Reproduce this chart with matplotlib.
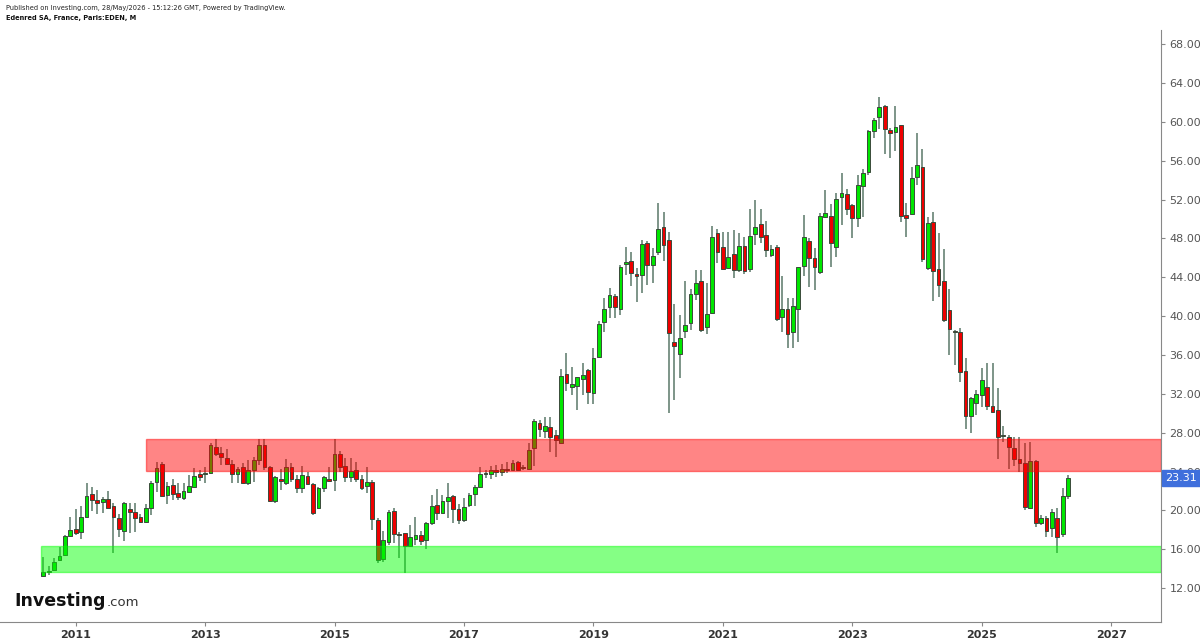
import matplotlib
matplotlib.use("Agg")
import matplotlib.pyplot as plt
import matplotlib.patches as patches
import pandas as pd

# --- monthly candles, Jul 2010 .. May 2026 ---
months = pd.date_range("2010-07-01", periods=191, freq="MS")

opens = [13.24, 13.7, 13.85, 14.9, 15.36, 17.35, 18.04, 17.73, 19.28, 21.65,
         21.06, 20.9, 21.2, 20.48, 19.24, 17.9, 20.13, 19.86, 19.35, 18.76,
         20.2, 22.95, 24.74, 21.58, 22.6, 21.8, 21.3, 21.9, 22.4, 23.7,
         23.7, 23.8, 26.5, 25.94, 25.42, 24.77, 23.7, 24.43, 22.85, 24.15,
         25.2, 26.73, 24.5, 21.0, 23.2, 22.85, 24.43, 23.2, 22.33, 23.53,
         22.7, 20.2, 22.33, 23.2, 23.12, 25.8, 24.56, 23.4, 24.15, 23.2,
         22.5, 22.95, 19.0, 14.95, 16.77, 19.96, 17.53, 17.63, 16.33, 17.1,
         17.46, 16.94, 18.73, 20.55, 19.76, 21.0, 21.5, 20.1, 19.0, 20.55,
         21.68, 22.37, 23.8, 23.7, 24.2, 23.9, 24.3, 24.15, 25.0, 24.4,
         24.3, 26.38, 28.96, 28.2, 28.55, 27.76, 26.9, 34.0, 32.74, 32.84,
         33.5, 34.45, 32.05, 35.75, 39.43, 40.97, 42.07, 40.73, 45.37, 45.68,
         44.34, 44.23, 47.56, 45.26, 46.64, 49.14, 47.84, 37.37, 36.1, 38.47,
         39.26, 42.24, 43.62, 38.84, 40.36, 48.6, 47.15, 44.99, 46.4, 44.75,
         47.26, 44.82, 48.5, 49.45, 48.39, 46.33, 47.08, 39.94, 40.73, 38.4,
         40.7, 45.16, 47.74, 46.02, 44.58, 50.17, 50.34, 47.15, 52.24, 52.54,
         51.41, 50.14, 53.43, 54.88, 59.03, 60.54, 61.67, 59.17, 59.0, 59.65,
         50.41, 50.48, 54.36, 55.39, 44.99, 49.66, 44.85, 43.62, 40.63, 38.45,
         38.4, 34.35, 29.71, 31.05, 31.88, 32.66, 30.78, 30.33, 27.8, 27.59,
         26.38, 25.25, 24.9, 20.27, 25.11, 18.66, 19.17, 18.15, 19.17, 17.53,
         21.51]
highs = [15.16, 14.27, 15.05, 16.26, 17.46, 19.28, 20.1, 20.4, 22.85, 22.37,
         22.1, 21.4, 22.0, 20.8, 19.62, 20.9, 20.8, 20.8, 19.6, 20.7,
         23.0, 25.0, 25.0, 22.95, 23.2, 22.78, 22.78, 23.6, 24.4, 24.15,
         24.5, 26.97, 27.4, 26.5, 26.3, 25.2, 24.5, 24.85, 25.2, 25.45,
         27.4, 27.3, 24.56, 23.5, 24.3, 25.25, 24.9, 23.6, 24.56, 23.9,
         22.85, 22.44, 23.53, 24.5, 27.4, 26.1, 25.35, 25.35, 25.0, 23.6,
         24.5, 23.12, 19.17, 17.87, 20.03, 20.2, 17.8, 17.63, 18.5, 19.28,
         17.9, 18.83, 21.58, 22.16, 21.58, 22.78, 21.58, 20.65, 21.23, 21.75,
         22.6, 24.43, 24.2, 24.6, 24.7, 24.8, 25.0, 25.2, 25.1, 24.67,
         26.97, 29.37, 29.3, 29.64, 29.57, 28.27, 34.6, 36.17, 34.8, 33.7,
         35.14, 34.6, 36.7, 39.5, 41.83, 42.93, 42.28, 45.26, 47.08, 46.64,
         44.92, 47.84, 47.77, 46.98, 51.68, 50.76, 48.7, 41.3, 40.1, 43.65,
         42.76, 44.75, 44.75, 43.45, 49.28, 48.94, 48.7, 48.7, 48.87, 48.6,
         48.18, 51.0, 51.96, 51.0, 49.83, 47.3, 47.3, 44.13, 41.83, 41.83,
         45.1, 50.41, 48.0, 46.98, 50.65, 52.99, 51.51, 52.65, 54.7, 53.06,
         51.6, 54.53, 55.2, 59.17, 60.37, 62.53, 61.74, 59.34, 61.64, 59.68,
         51.68, 55.32, 58.89, 57.18, 50.24, 50.69, 48.53, 46.91, 42.76, 38.57,
         38.74, 35.65, 31.64, 32.4, 34.62, 35.14, 35.14, 32.56, 28.7, 27.76,
         27.59, 27.59, 26.97, 27.07, 25.18, 19.52, 19.4, 20.1, 20.2, 22.26,
         23.64]
lows = [13.17, 13.3, 13.8, 14.8, 15.3, 17.3, 17.46, 17.05, 19.17, 19.93,
        19.6, 19.7, 20.2, 15.64, 17.3, 16.87, 17.7, 17.8, 18.66, 18.66,
        19.5, 21.9, 21.4, 20.7, 21.06, 21.06, 21.06, 21.75, 22.37, 23.05,
        22.78, 23.7, 25.6, 24.67, 24.67, 22.85, 22.8, 22.8, 22.6, 22.95,
        24.67, 24.2, 20.9, 20.8, 22.1, 22.6, 22.95, 21.8, 21.8, 22.6,
        19.5, 20.1, 21.9, 22.95, 22.0, 23.9, 22.95, 22.95, 22.95, 22.1,
        21.8, 17.97, 14.54, 14.7, 16.43, 16.67, 15.12, 13.5, 16.26, 16.43,
        16.43, 15.98, 18.5, 19.0, 19.69, 19.17, 18.73, 18.6, 18.83, 20.3,
        20.4, 22.37, 23.3, 23.2, 23.4, 23.5, 23.8, 24.15, 24.1, 24.15,
        24.15, 24.56, 27.6, 27.5, 26.0, 25.45, 26.83, 32.3, 31.9, 30.33,
        31.9, 31.0, 31.0, 35.65, 38.4, 39.77, 39.77, 40.1, 44.23, 43.1,
        41.49, 42.35, 43.2, 43.38, 46.3, 45.7, 29.99, 31.36, 33.6, 37.7,
        38.57, 41.66, 38.4, 38.16, 40.22, 45.44, 44.82, 44.82, 43.9, 44.58,
        44.34, 44.58, 47.3, 47.5, 46.12, 46.12, 39.53, 38.4, 36.68, 36.68,
        37.37, 44.13, 43.03, 42.69, 44.34, 50.07, 45.1, 46.12, 49.38, 50.41,
        48.0, 49.2, 50.24, 54.53, 58.38, 59.24, 56.66, 56.25, 57.04, 49.73,
        48.11, 50.41, 53.5, 45.6, 44.75, 41.6, 42.0, 39.43, 36.0, 34.97,
        33.25, 28.34, 28.0, 29.82, 30.67, 30.33, 29.99, 25.25, 27.07, 24.22,
        24.56, 23.98, 20.03, 20.1, 18.32, 18.49, 17.29, 17.29, 15.57, 17.29,
        21.13]
closes = [13.68, 13.8, 14.7, 15.3, 17.35, 17.97, 17.63, 19.35, 21.5, 21.06,
          20.72, 21.2, 20.27, 19.35, 18.08, 20.72, 19.86, 19.24, 18.76, 20.2,
          22.78, 24.32, 21.47, 22.54, 21.68, 21.4, 22.0, 22.54, 23.57, 23.47,
          23.8, 26.7, 25.77, 25.46, 24.77, 23.7, 24.22, 22.85, 24.15, 25.2,
          26.7, 24.5, 20.96, 23.47, 23.0, 24.5, 23.2, 22.33, 23.6, 22.7,
          19.7, 22.26, 23.4, 23.05, 25.8, 24.5, 23.4, 24.08, 23.2, 22.33,
          22.95, 19.1, 14.88, 16.94, 19.86, 17.56, 17.42, 16.33, 17.22, 17.46,
          16.87, 18.66, 20.45, 19.69, 21.0, 21.34, 20.1, 19.0, 20.38, 21.6,
          22.37, 23.7, 23.7, 24.2, 23.9, 24.3, 24.2, 24.9, 24.15, 24.45,
          26.2, 29.2, 28.37, 28.68, 27.6, 27.24, 33.83, 33.08, 33.05, 33.7,
          33.94, 32.2, 35.65, 39.19, 40.73, 42.14, 40.97, 45.02, 45.6, 44.4,
          44.13, 47.4, 45.26, 46.23, 48.94, 47.33, 38.3, 36.96, 37.78, 39.08,
          42.24, 43.38, 38.57, 40.18, 48.11, 46.57, 44.89, 46.05, 44.75, 47.26,
          44.61, 48.22, 49.14, 48.15, 46.78, 46.88, 39.67, 40.73, 38.12, 41.04,
          45.1, 48.18, 46.02, 45.1, 50.31, 50.65, 47.5, 52.06, 52.65, 51.0,
          50.14, 53.47, 54.7, 59.07, 60.16, 61.5, 59.24, 58.9, 59.44, 50.34,
          50.14, 54.26, 55.56, 45.88, 49.62, 44.65, 43.2, 39.6, 38.67, 38.35,
          34.2, 29.71, 31.53, 31.95, 33.42, 30.78, 30.09, 27.52, 27.7, 26.49,
          25.25, 24.9, 20.38, 25.11, 18.66, 19.17, 17.87, 19.79, 17.29, 21.51,
          23.31]

# --- zones (price bands) ---
resistance = (24.05, 27.4)
resistance_start = 2012.09
support = (13.65, 16.3)
support_start = 2010.47

year_ticks = [2011, 2013, 2015, 2017, 2019, 2021, 2023, 2025, 2027]
price_ticks = list(range(12, 69, 4))
last_price = closes[-1]

x = [d.year + (d.month - 1) / 12 for d in months]

fig = plt.figure(figsize=(12, 6.41), dpi=100)
ax = fig.add_axes([0.0, 0.0296, 0.9675, 0.9236])
xmin, xmax = 2009.83, 2027.77
ax.set_xlim(xmin, xmax)
ax.set_ylim(8.5, 69.47)

wick_col = "#5a7868"
w = 0.058
for xi, o, h, l, c in zip(x, opens, highs, lows, closes):
    up = c >= o
    ax.vlines(xi, l, h, color=wick_col, linewidth=1.1, zorder=2)
    body = max(abs(c - o), 0.08)
    ax.bar(xi, body, width=w, bottom=min(o, c),
           color="#00e600" if up else "#ee0000",
           edgecolor="#3a4a3a", linewidth=0.7, zorder=3)

# zones on top, semi transparent
ax.add_patch(patches.Rectangle((resistance_start, resistance[0]), xmax - resistance_start,
                               resistance[1] - resistance[0], facecolor="#ff0000",
                               edgecolor="#ff0000", alpha=0.48, linewidth=1, zorder=4))
ax.add_patch(patches.Rectangle((support_start, support[0]), xmax - support_start,
                               support[1] - support[0], facecolor="#00ff00",
                               edgecolor="#00ff00", alpha=0.48, linewidth=1, zorder=4))

# axes styling
for s in ["top", "left"]:
    ax.spines[s].set_visible(False)
ax.spines["right"].set_color("#888888")
ax.spines["bottom"].set_color("#888888")
ax.yaxis.tick_right()
ax.set_yticks(price_ticks)
ax.set_yticklabels([f"{p:.2f}" for p in price_ticks], fontsize=8, color="#555555")
ax.set_xticks(year_ticks)
ax.set_xticklabels([str(y) for y in year_ticks], fontsize=8, color="#333333",
                   fontweight="bold")
ax.tick_params(axis="both", colors="#888888", length=3, width=0.8)
ax.tick_params(axis="y", labelcolor="#555555", pad=3)
ax.tick_params(axis="x", labelcolor="#333333", pad=3)

# last price label (covers the 24.00 tick label, as in the original)
ax.annotate(f"{last_price:.2f}", xy=(1.0, last_price), xycoords=("axes fraction", "data"),
            xytext=(3, 0), textcoords="offset points", va="center", ha="left",
            fontsize=8, color="white", zorder=10, annotation_clip=False,
            bbox=dict(boxstyle="square,pad=0.25", facecolor="#3f6fdc", edgecolor="#3f6fdc"))

# header texts
fig.text(0.005, 0.992, "Published on Investing.com, 28/May/2026 - 15:12:26 GMT, Powered by TradingView.",
         fontsize=4.8, color="#222222", va="top")
fig.text(0.005, 0.976, "Edenred SA, France, Paris:EDEN, M", fontsize=4.8,
         color="#111111", va="top", fontweight="bold")

# logo
fig.text(0.012, 0.063, "Investing", fontsize=12.5, fontweight="bold", color="#111111",
         va="center")
fig.text(0.0885, 0.060, ".com", fontsize=9.5, color="#333333", va="center")

fig.savefig("out.png", dpi=100)
